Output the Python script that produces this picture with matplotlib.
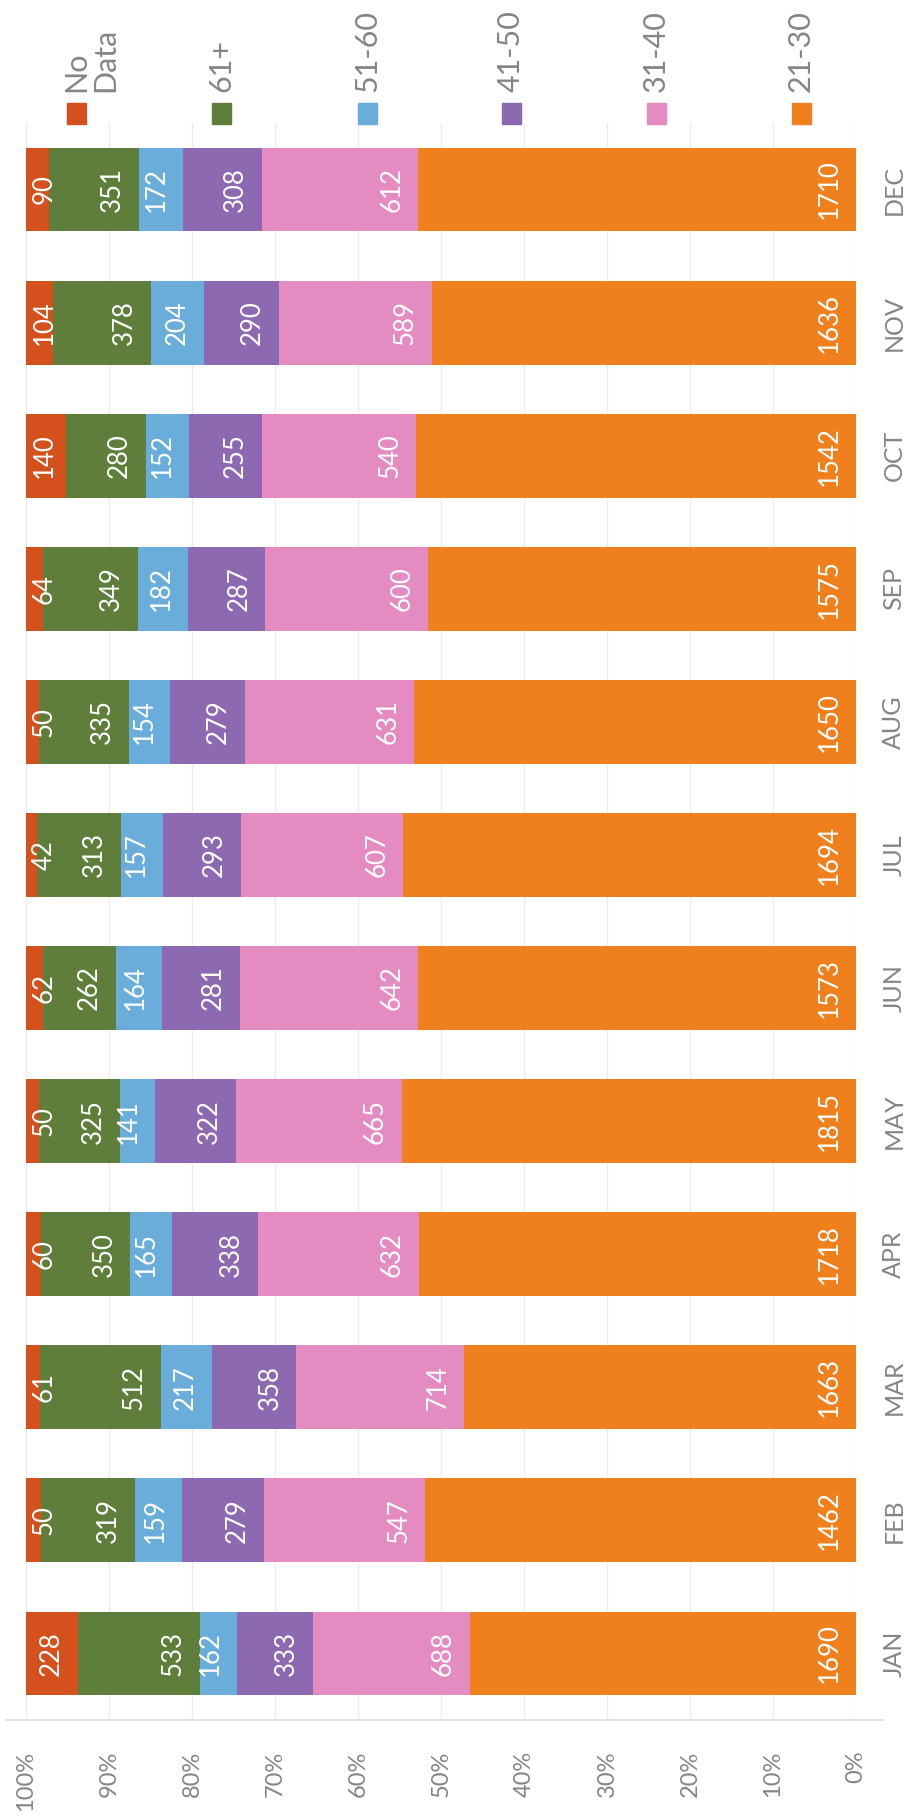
import matplotlib.pyplot as plt
import numpy as np
from matplotlib.patches import Rectangle

months = ['JAN', 'FEB', 'MAR', 'APR', 'MAY', 'JUN', 'JUL', 'AUG', 'SEP', 'OCT', 'NOV', 'DEC']
groups = ['21-30', '31-40', '41-50', '51-60', '61+', 'No\nData']
age_21_30 = [1690, 1462, 1663, 1718, 1815, 1573, 1694, 1650, 1575, 1542, 1636, 1710]
age_31_40 = [688, 547, 714, 632, 665, 642, 607, 631, 600, 540, 589, 612]
age_41_50 = [333, 279, 358, 338, 322, 281, 293, 279, 287, 255, 290, 308]
age_51_60 = [162, 159, 217, 165, 141, 164, 157, 154, 182, 152, 204, 172]
age_61_up = [533, 319, 512, 350, 325, 262, 313, 335, 349, 280, 378, 351]
no_data = [228, 50, 61, 60, 50, 62, 42, 50, 64, 140, 104, 90]

colors = ['#f07f1e', '#e48cc1', '#8c69b1', '#6badda', '#5f7e3c', '#d4501c']
grey = '#858585'

plt.rcParams['font.family'] = ['Lato', 'DejaVu Sans']

W, H = 917, 1818
fig = plt.figure(figsize=(W / 100., H / 100.), dpi=100)
fig.patch.set_facecolor('white')

# plot area in pixels: x 26..856, y 123..1720
ax = fig.add_axes([26. / W, 1 - 1720. / H, 830. / W, (1720. - 123.) / H])

series = [age_21_30, age_31_40, age_41_50, age_51_60, age_61_up, no_data]
data = np.array(series, dtype=float)
totals = data.sum(axis=0)
pct = data / totals * 100.
y = np.arange(len(months))

labels = []
left = np.zeros(len(months))
for i, name in enumerate(groups):
    ax.barh(y, pct[i], left=left, height=0.63, color=colors[i], zorder=2)
    for j in range(len(months)):
        t = ax.annotate('%d' % data[i][j], xy=(left[j], y[j]), xytext=(-10, 0),
                        textcoords='offset points', rotation=90, ha='right', va='center',
                        color='white', fontsize=18.5, zorder=5)
        labels.append(t)
    left += pct[i]

ax.set_xlim(100, 0)
ax.set_ylim(-0.5, len(months) - 0.5)
ax.set_xticks(np.arange(0, 101, 10))
ax.set_xticklabels(['%d%%' % v for v in np.arange(0, 101, 10)])
ax.xaxis.grid(True, color='#ececec', linewidth=1, zorder=0)
ax.set_axisbelow(True)
ax.tick_params(axis='x', length=0, pad=22, labelrotation=90, labelcolor=grey, labelsize=17)
ax.yaxis.tick_right()
ax.set_yticks(y)
ax.set_yticklabels(months)
ax.tick_params(axis='y', length=0, pad=19, labelrotation=90, labelcolor=grey, labelsize=18)
for lab in ax.get_yticklabels():
    lab.set_va('center')
for s in ax.spines.values():
    s.set_visible(False)
ax.axhline(-0.5, xmin=-0.024, xmax=1.033, color='#dcdcdc', linewidth=1.2, clip_on=False)

# keep the labels of the thin end segments inside the plot area
fig.canvas.draw()
rend = fig.canvas.get_renderer()
for t in labels:
    bb = t.get_window_extent(rend)
    if bb.x0 < 32:
        dx = (32 - bb.x0) * 72. / fig.dpi
        t.xyann = (t.xyann[0] + dx, 0)

# legend along the top, rotated like the rest of the chart
leg_x = [801, 656, 511, 367, 221, 76]
for i, name in enumerate(groups):
    cx = leg_x[i]
    fig.add_artist(Rectangle(((cx - 9.) / W, 1 - 124. / H), 19. / W, 21. / H,
                             transform=fig.transFigure, color=colors[i]))
    if '\n' in name:
        fig.text((cx - 14.) / W, 1 - 92. / H, name, rotation=90, ha='left', va='bottom',
                 color=grey, fontsize=22, linespacing=1.05)
    else:
        fig.text(cx / W, 1 - 92. / H, name, rotation=90, ha='center', va='bottom',
                 color=grey, fontsize=22)

fig.savefig('out.png', dpi=100, facecolor='white')
